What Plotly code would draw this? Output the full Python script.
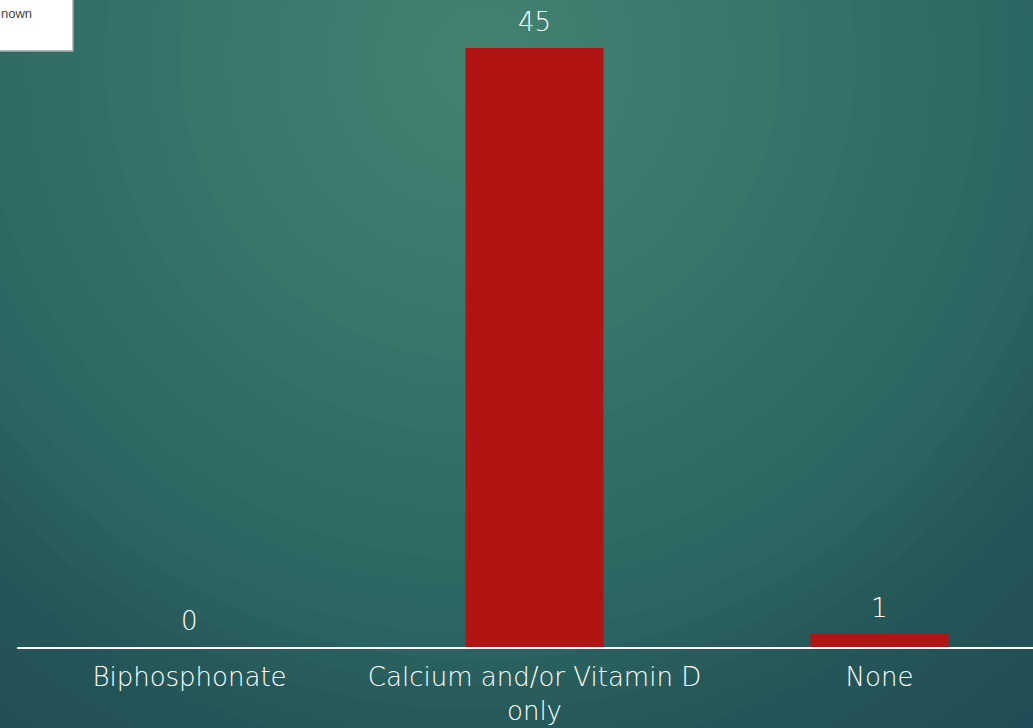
import plotly.graph_objects as go

categories = ["Biphosphonate", "Calcium and/or Vitamin D<br>only", "None"]
values = [0, 45, 1]

W, H = 1033, 728
ML, MB, MT = 17, 81, 0
PW = W - ML
PH = H - MB - MT
FONT = "DejaVu Sans"
FS = 26

def px(x):
    return (x - ML) / PW

def py(y):
    return (H - MB - y) / PH

def hex2rgb(h):
    h = h.lstrip("#")
    return tuple(int(h[i:i + 2], 16) for i in (0, 2, 4))

# background glow colour stops (radius in px, colour)
stops = [(0, "#45826f"), (200, "#3c7a6f"), (500, "#2f6a64"), (580, "#2c6562"),
         (680, "#26595a"), (900, "#1e4c54")]

def col_at(r):
    for (r0, c0), (r1, c1) in zip(stops, stops[1:]):
        if r <= r1:
            t = (r - r0) / (r1 - r0)
            a, b = hex2rgb(c0), hex2rgb(c1)
            return "rgb(%d,%d,%d)" % tuple(round(a[k] + (b[k] - a[k]) * t) for k in range(3))
    return stops[-1][1]

fig = go.Figure()
fig.add_trace(go.Bar(
    x=categories, y=values, width=0.4,
    marker=dict(color="#b01513", line=dict(width=0)),
    showlegend=False, hoverinfo="x+y",
))

shapes = []
cx, cy = 480, 60
for r in range(900, 0, -25):
    shapes.append(dict(type="circle", xref="paper", yref="paper", layer="below",
                       x0=px(cx - r), x1=px(cx + r), y0=py(cy + r), y1=py(cy - r),
                       fillcolor=col_at(r), line=dict(width=0)))
# partial legend box top-left
shapes.append(dict(type="rect", xref="paper", yref="paper",
                   x0=px(-5), x1=px(73), y0=py(51), y1=py(-5),
                   fillcolor="white", line=dict(color="#a8a8a8", width=1.5)))

annotations = [dict(xref="paper", yref="paper", x=px(-1), y=py(14), xanchor="left", yanchor="middle",
                    text="nown", showarrow=False, font=dict(size=13, color="#444444", family="Liberation Sans"))]
for c, v in zip(categories, values):
    annotations.append(dict(x=c, y=v, xref="x", yref="y", text=str(v), showarrow=False,
                            yanchor="bottom", yshift=9,
                            font=dict(size=FS, color="white", family=FONT, weight=200)))

fig.update_layout(
    shapes=shapes,
    annotations=annotations,
    width=W, height=H,
    margin=dict(l=ML, r=0, t=MT, b=MB),
    paper_bgcolor="#1e4c54", plot_bgcolor="rgba(0,0,0,0)",
    font=dict(family=FONT, color="white", size=FS, weight=200),
    xaxis=dict(range=[-0.5, -0.5 + PW / 345], showgrid=False, zeroline=False,
               showline=True, linecolor="white", linewidth=2, ticks="",
               ticklabelstandoff=6,
               tickfont=dict(size=FS, color="white", family=FONT, weight=200)),
    yaxis=dict(range=[0, 45 * PH / 599], visible=False, showgrid=False, zeroline=False),
)
fig.write_html("out.html", config={"displayModeBar": False},
               post_script="document.body.style.margin='0';")
